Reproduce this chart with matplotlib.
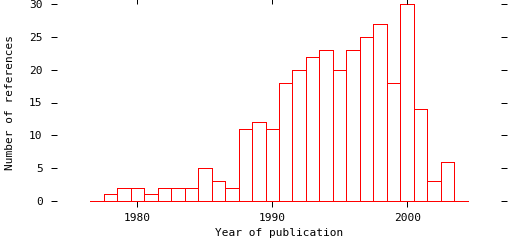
import numpy as np
import matplotlib
matplotlib.use('Agg')
import matplotlib.pyplot as plt

# publication years and number of references per year
years = list(range(1977, 2005))
counts = [0, 1, 2, 2, 1, 2, 2, 2, 5, 3, 2, 11, 12, 11,
          18, 20, 22, 23, 20, 23, 25, 27, 18, 30, 14, 3, 6, 0]

xticks = [1980, 1990, 2000]
yticks = [0, 5, 10, 15, 20, 25, 30]

plt.rcParams['font.family'] = ['DejaVu Sans Mono']
plt.rcParams['font.size'] = 8

fig = plt.figure(figsize=(5.12, 2.4), dpi=100)
ax = fig.add_axes([51 / 512, 39 / 240, 456 / 512, 197 / 240])

ax.bar(years, counts, width=1.0, fill=False, edgecolor='red', linewidth=0.72,
       antialiased=False, clip_on=False)
ax.plot([years[0] - 0.5, years[-1] + 0.5], [0, 0], color='red', linewidth=0.72,
        antialiased=False, clip_on=False)

ax.set_xlim(1973.6, 2007.4)
ax.set_ylim(0, 30)
for s in ax.spines.values():
    s.set_visible(False)

ax.set_xticks(xticks)
ax.set_yticks(yticks)
ax.tick_params(axis='x', direction='out', top=True, bottom=True, length=4.3, width=0.72,
               colors='black', pad=4)
ax.tick_params(axis='y', direction='in', left=True, right=True, length=4.3, width=0.72,
               colors='black', pad=6)
ax.set_xlabel('Year of publication', labelpad=4)
ax.set_ylabel('Number of references', labelpad=10)

fig.savefig('out.png', dpi=100)
